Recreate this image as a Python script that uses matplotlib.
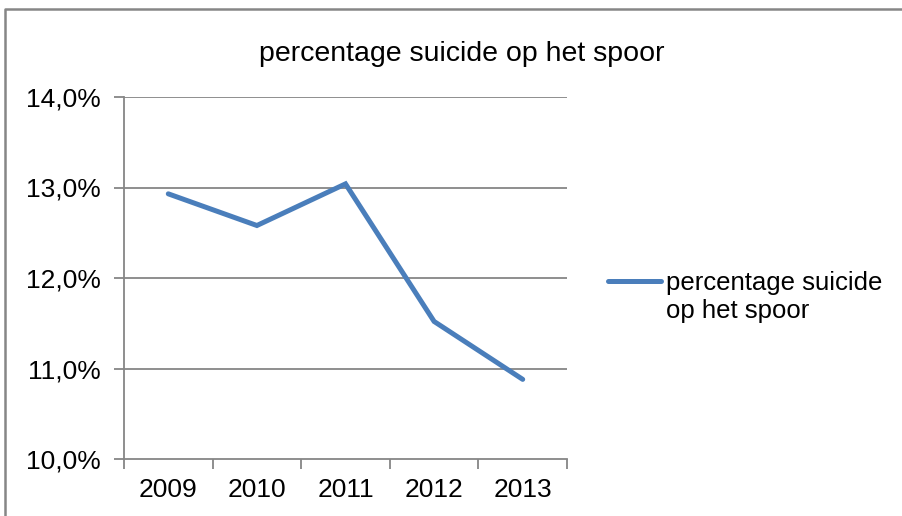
import matplotlib.pyplot as plt
from matplotlib.lines import Line2D
from matplotlib.ticker import FixedLocator

plt.rcParams['font.family'] = ['Liberation Sans', 'DejaVu Sans']

years = ['2009', '2010', '2011', '2012', '2013']
pct = [12.93, 12.58, 13.04, 11.52, 10.88]
yticks = [10, 11, 12, 13, 14]
ylabels = ['10,0%', '11,0%', '12,0%', '13,0%', '14,0%']
label = 'percentage suicide\nop het spoor'

grey = '#868686'
blue = '#4A7EBB'

fig = plt.figure(figsize=(9.02, 5.16), dpi=100)
ax = fig.add_axes([124 / 902, 1 - 459 / 516, (567 - 124) / 902, (459 - 97) / 516])

x = list(range(len(years)))
ax.plot(x, pct, color=blue, lw=3.6, solid_capstyle='round', solid_joinstyle='miter')

ax.set_xlim(-0.5, len(years) - 0.5)
ax.set_ylim(10, 14)
ax.set_yticks(yticks)
ax.set_yticklabels(ylabels, fontsize=19)
ax.set_xticks(x)
ax.set_xticklabels(years, fontsize=19)
ax.xaxis.set_minor_locator(FixedLocator([i - 0.5 for i in range(len(years) + 1)]))
ax.tick_params(axis='x', which='major', length=0, pad=14)
ax.tick_params(axis='x', which='minor', length=7, width=1.3, color=grey, direction='out')
ax.tick_params(axis='y', length=7, width=1.3, color=grey, pad=10)

for v in yticks[1:]:
    ax.axhline(v, color=grey, lw=1.3, zorder=0)
for s in ['top', 'right']:
    ax.spines[s].set_visible(False)
for s in ['left', 'bottom']:
    ax.spines[s].set_color(grey)
    ax.spines[s].set_linewidth(1.3)

fig.text(462 / 902, 1 - 54 / 516, 'percentage suicide op het spoor', fontsize=20.5,
         ha='center', va='center')

# legend entry
fig.add_artist(Line2D([608 / 902, 661 / 902], [1 - 281 / 516, 1 - 281 / 516],
                      color=blue, lw=3.6, solid_capstyle='round'))
fig.text(666 / 902, 1 - 271 / 516, label, fontsize=18.5, ha='left', va='top',
         linespacing=1.2)

# chart area border
fig.add_artist(Line2D([5 / 902, 5 / 902, 1], [0, 1 - 9 / 516, 1 - 9 / 516],
                      color=grey, lw=1.8))

fig.savefig('out.png', dpi=100)
